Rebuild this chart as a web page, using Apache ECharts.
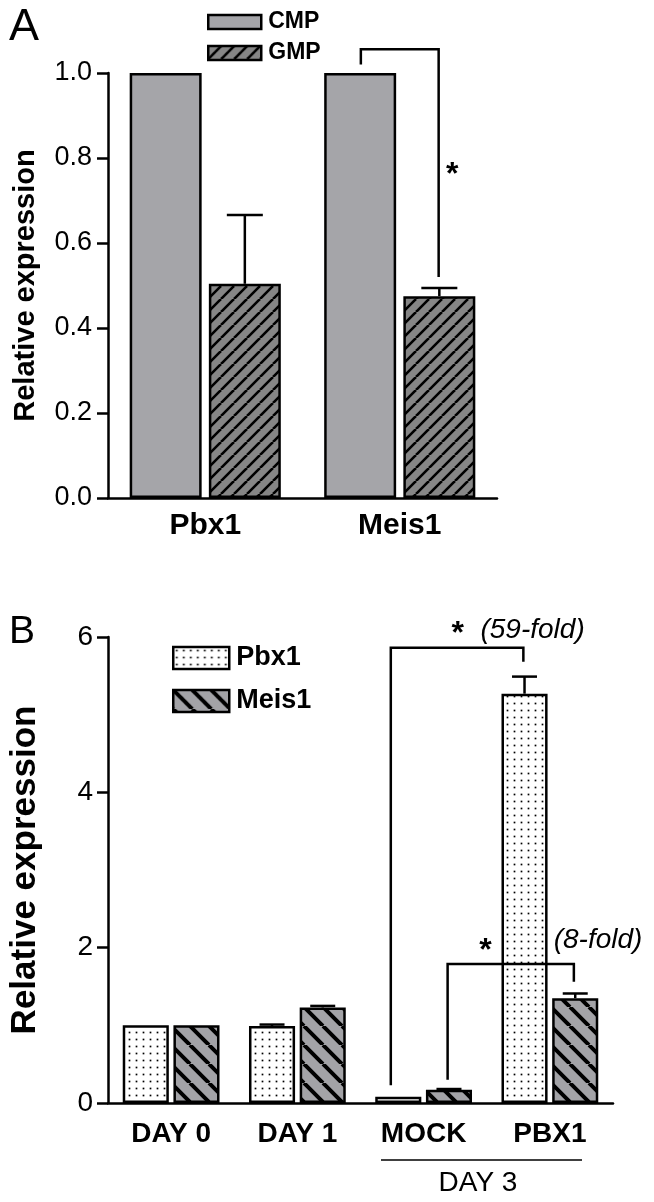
<!DOCTYPE html>
<html>
<head>
<meta charset="utf-8">
<script src="https://cdn.jsdelivr.net/npm/echarts@6/dist/echarts.min.js"></script>
<style>
html, body { margin: 0; padding: 0; background: #fff; }
#chart { width: 654px; height: 1202px; }
</style>
</head>
<body>
<div id="chart"></div>
<script>
// ---- panel A data
const genesA = ['Pbx1', 'Meis1']
const cmpA = [1.0, 1.0]
const gmpA = [0.504, 0.475]
const gmpErrA = [0.162, 0.019]

// ---- panel B data
const groupsB = ['DAY 0', 'DAY 1', 'MOCK', 'PBX1']
const pbx1B = [1.0, 0.99, 0.08, 5.27]
const pbx1ErrB = [0, 0.02, 0, 0.22]
const meis1B = [1.0, 1.23, 0.17, 1.35]
const meis1ErrB = [0, 0.02, 0.01, 0.06]

// significance brackets, x in category units: [leftX, leftEnd, rightX, rightEnd, top]
const bracketsA = [[0.80, 1.02, 1.20, 0.52, 1.056]]
const bracketsB = [
    [1.74, 0.23, 2.79, 5.68, 5.86],
    [2.19, 0.30, 3.19, 1.56, 1.79]
]
// annotation text: [x, y, text, align]
const notesA = [[1.27, 0.77, '*', 'center']]
const notesB = [
    [2.27, 6.09, '*', 'center'],
    [2.45, 6.09, '(59-fold)', 'left'],
    [2.49, 2.0, '*', 'center'],
    [3.03, 2.10, '(8-fold)', 'left']
]

const FONT = '"Liberation Sans", Arial, Helvetica, sans-serif'
const LW = 2.5

function makeTile(w, h, bg, draw) {
    const c = document.createElement('canvas')
    c.width = w
    c.height = h
    const ctx = c.getContext('2d')
    ctx.fillStyle = bg
    ctx.fillRect(0, 0, w, h)
    draw(ctx, w, h)
    return { image: c, repeat: 'repeat' }
}
function hatch(s, bg, lw, dir) {
    return makeTile(s, s, bg, function(ctx) {
        ctx.strokeStyle = '#000'
        ctx.lineWidth = lw
        ctx.beginPath()
        for (let k = -1; k <= 1; k++) {
            if (dir > 0) {
                ctx.moveTo(k * s, s)
                ctx.lineTo(k * s + s, 0)
            } else {
                ctx.moveTo(k * s, 0)
                ctx.lineTo(k * s + s, s)
            }
        }
        ctx.stroke()
    })
}
function dots(s, bg, r) {
    return makeTile(s, s, bg, function(ctx) {
        ctx.fillStyle = '#000'
        ctx.fillRect(s / 2 - r / 2, s / 2 - r / 2, r, r)
    })
}

const fillCMP = '#a5a5a9'
const fillGMP = hatch(13, '#868686', 2.6, 1)
const fillPbx1 = dots(7, '#ffffff', 1.7)
const fillMeis1 = hatch(19, '#a3a3a7', 4, -1)

// pixel point from category-unit x and value y
function pt(api, x, y) {
    const c = api.coord([0, y])
    return [c[0] + x * api.size([1, 0])[0], c[1]]
}

function errSeries(vals, errs, off, cap, xi) {
    return {
        type: 'custom',
        xAxisIndex: xi,
        yAxisIndex: xi,
        silent: true,
        z: 5,
        data: vals.map((v, i) => [i, v, errs[i]]),
        renderItem: function(params, api) {
            const i = params.dataIndex
            const e = errs[i]
            if (!e) return null
            const a = pt(api, i + off, vals[i])
            const b = pt(api, i + off, vals[i] + e)
            const st = { stroke: '#000', lineWidth: LW }
            return {
                type: 'group',
                children: [
                    { type: 'line', shape: { x1: a[0], y1: a[1], x2: b[0], y2: b[1] }, style: st },
                    { type: 'line', shape: { x1: b[0] - cap, y1: b[1], x2: b[0] + cap, y2: b[1] }, style: st }
                ]
            }
        }
    }
}

function bracketSeries(list, xi) {
    return {
        type: 'custom',
        xAxisIndex: xi,
        yAxisIndex: xi,
        silent: true,
        z: 6,
        data: list.map(b => [Math.round(b[0]), b[4]]),
        renderItem: function(params, api) {
            const b = list[params.dataIndex]
            const p1 = pt(api, b[0], b[1])
            const p2 = pt(api, b[0], b[4])
            const p3 = pt(api, b[2], b[4])
            const p4 = pt(api, b[2], b[3])
            return {
                type: 'polyline',
                shape: { points: [p1, p2, p3, p4] },
                style: { stroke: '#000', lineWidth: LW, fill: null }
            }
        }
    }
}

function noteSeries(list, xi, size) {
    return {
        type: 'custom',
        xAxisIndex: xi,
        yAxisIndex: xi,
        silent: true,
        z: 7,
        data: list.map(n => [Math.round(n[0]), n[1]]),
        renderItem: function(params, api) {
            const n = list[params.dataIndex]
            const p = pt(api, n[0], n[1])
            const star = n[2] === '*'
            return {
                type: 'text',
                x: p[0],
                y: p[1] + (star ? 4 : 0),
                style: {
                    text: n[2],
                    fill: '#000',
                    align: n[3],
                    verticalAlign: 'middle',
                    font: (star ? 'bold ' + (size + 4) : 'italic ' + size) + 'px ' + FONT
                }
            }
        }
    }
}

const barBorder = { borderColor: '#000', borderWidth: LW }

const option = {
    animation: false,
    backgroundColor: '#fff',
    textStyle: { fontFamily: FONT, color: '#000' },
    graphic: [
        { type: 'text', left: 9, top: 5, style: { text: 'A', font: '45px ' + FONT, fill: '#000' } },
        { type: 'text', left: 9, top: 613, style: { text: 'B', font: '39px ' + FONT, fill: '#000' } },
        { type: 'line', shape: { x1: 381, y1: 1160, x2: 582, y2: 1160 }, style: { stroke: '#000', lineWidth: 1.5 } },
        { type: 'text', x: 478, y: 1183, style: { text: 'DAY 3', font: '28px ' + FONT, fill: '#000', align: 'center', verticalAlign: 'middle' } }
    ],
    legend: [
        {
            data: ['CMP', 'GMP'],
            orient: 'vertical',
            left: 207,
            top: 10,
            padding: 0,
            icon: 'rect',
            itemWidth: 53,
            itemHeight: 14,
            itemGap: 7,
            selectedMode: false,
            itemStyle: { borderColor: '#000', borderWidth: LW },
            textStyle: { fontSize: 23, fontWeight: 'bold', color: '#000', lineHeight: 24, padding: [0, 0, 0, 2] }
        },
        {
            data: ['Pbx1', 'Meis1'],
            orient: 'vertical',
            left: 172,
            top: 644,
            padding: 0,
            icon: 'rect',
            itemWidth: 56,
            itemHeight: 22,
            itemGap: 15,
            selectedMode: false,
            itemStyle: { borderColor: '#000', borderWidth: LW },
            textStyle: { fontSize: 27, fontWeight: 'bold', color: '#000', lineHeight: 28, padding: [0, 0, 0, 2] }
        }
    ],
    grid: [
        { left: 108, top: 73, width: 389, height: 425 },
        { left: 108, top: 637, width: 505, height: 466 }
    ],
    xAxis: [
        {
            type: 'category',
            gridIndex: 0,
            data: genesA,
            axisLine: { lineStyle: { color: '#000', width: LW } },
            axisTick: { show: false },
            axisLabel: { color: '#000', fontSize: 30, fontWeight: 'bold', margin: 13 }
        },
        {
            type: 'category',
            gridIndex: 1,
            data: groupsB,
            axisLine: { lineStyle: { color: '#000', width: LW } },
            axisTick: { show: false },
            axisLabel: { color: '#000', fontSize: 28, fontWeight: 'bold', margin: 17 }
        }
    ],
    yAxis: [
        {
            type: 'value',
            gridIndex: 0,
            min: 0,
            max: 1,
            interval: 0.2,
            name: 'Relative expression',
            nameLocation: 'middle',
            nameGap: 68,
            nameTextStyle: { fontSize: 29, fontWeight: 'bold', color: '#000' },
            splitLine: { show: false },
            axisLine: { show: true, lineStyle: { color: '#000', width: LW } },
            axisTick: { show: true, length: 11, lineStyle: { color: '#000', width: LW } },
            axisLabel: { color: '#000', fontSize: 27, margin: 16, formatter: v => v.toFixed(1) }
        },
        {
            type: 'value',
            gridIndex: 1,
            min: 0,
            max: 6,
            interval: 2,
            name: 'Relative expression',
            nameLocation: 'middle',
            nameGap: 65,
            nameTextStyle: { fontSize: 35, fontWeight: 'bold', color: '#000' },
            splitLine: { show: false },
            axisLine: { show: true, lineStyle: { color: '#000', width: LW } },
            axisTick: { show: true, length: 11, lineStyle: { color: '#000', width: LW } },
            axisLabel: { color: '#000', fontSize: 28, margin: 15 }
        }
    ],
    series: [
        {
            name: 'CMP', type: 'bar', xAxisIndex: 0, yAxisIndex: 0,
            data: cmpA, barWidth: '37%', barGap: '10%',
            itemStyle: Object.assign({ color: fillCMP }, barBorder), silent: true
        },
        {
            name: 'GMP', type: 'bar', xAxisIndex: 0, yAxisIndex: 0,
            data: gmpA, barWidth: '37%', barGap: '10%',
            itemStyle: Object.assign({ color: fillGMP }, barBorder), silent: true
        },
        {
            name: 'Pbx1', type: 'bar', xAxisIndex: 1, yAxisIndex: 1,
            data: pbx1B, barWidth: '36.5%', barGap: '10%',
            itemStyle: Object.assign({ color: fillPbx1 }, barBorder), silent: true
        },
        {
            name: 'Meis1', type: 'bar', xAxisIndex: 1, yAxisIndex: 1,
            data: meis1B, barWidth: '36.5%', barGap: '10%',
            itemStyle: Object.assign({ color: fillMeis1 }, barBorder), silent: true
        },
        errSeries(gmpA, gmpErrA, 0.2035, 18, 0),
        errSeries(pbx1B, pbx1ErrB, -0.2008, 12.5, 1),
        errSeries(meis1B, meis1ErrB, 0.2008, 12.5, 1),
        bracketSeries(bracketsA, 0),
        bracketSeries(bracketsB, 1),
        noteSeries(notesA, 0, 28),
        noteSeries(notesB, 1, 28)
    ]
}

const chart = echarts.init(document.getElementById('chart'))
chart.setOption(option)
</script>
</body>
</html>
